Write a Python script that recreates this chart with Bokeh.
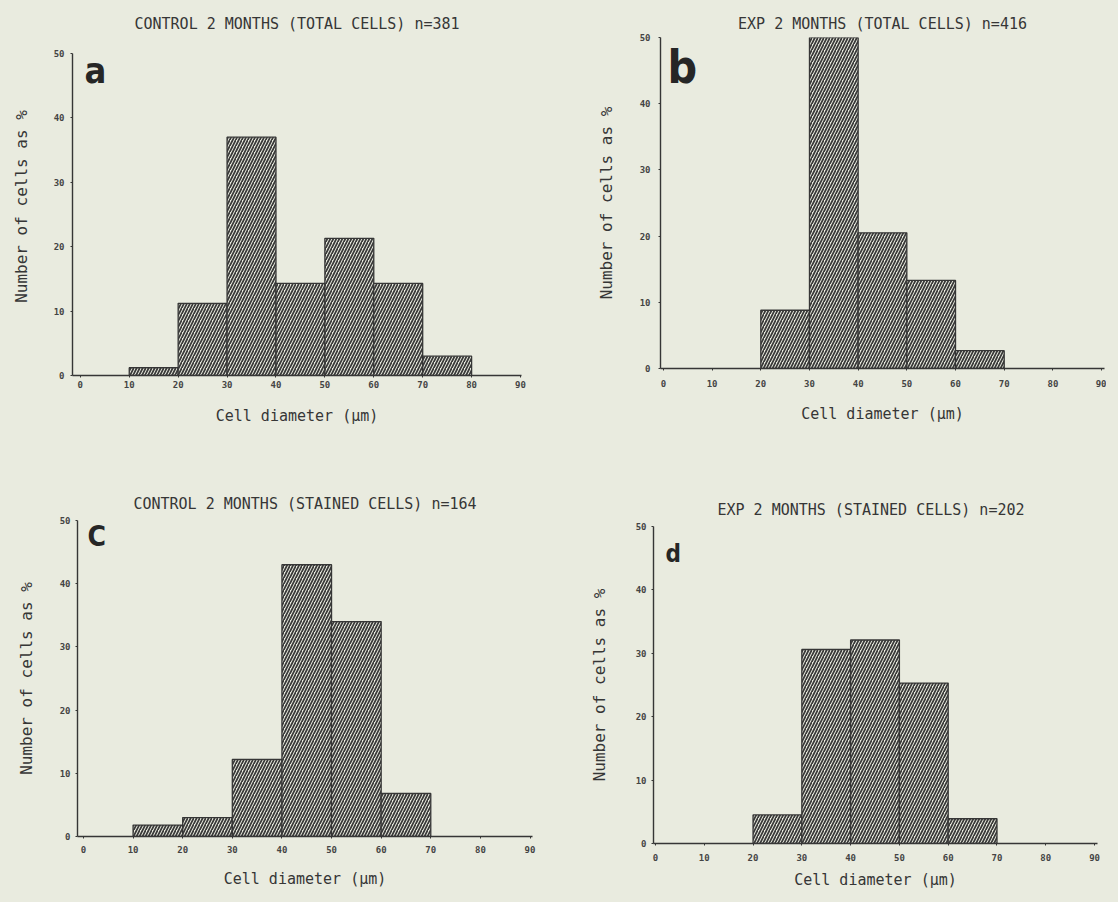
from bokeh.plotting import figure
from bokeh.models import Label, FixedTicker
from bokeh.embed import file_html
from bokeh.resources import INLINE

# ---------------- data ----------------
bin_edges = [0, 10, 20, 30, 40, 50, 60, 70, 80, 90]
x_ticks = [0, 10, 20, 30, 40, 50, 60, 70, 80, 90]
y_ticks = [0, 10, 20, 30, 40, 50]

control_total = [0, 1.2, 11.2, 37.0, 14.3, 21.3, 14.3, 3.0, 0]
exp_total = [0, 0, 8.8, 50.0, 20.5, 13.3, 2.7, 0, 0]
control_stained = [0, 1.8, 3.0, 12.2, 43.0, 34.0, 6.8, 0, 0]
exp_stained = [0, 0, 4.5, 30.6, 32.1, 25.3, 3.9, 0, 0]

titles = [
    "CONTROL 2 MONTHS (TOTAL CELLS) n=381",
    "EXP 2 MONTHS (TOTAL CELLS) n=416",
    "CONTROL 2 MONTHS (STAINED CELLS) n=164",
    "EXP 2 MONTHS (STAINED CELLS)  n=202",
]
letters = ["a", "b", "C", "d"]
y_label = "Number of cells as %"
x_label = "Cell diameter (\u03bcm)"

# ---------------- style ----------------
BG = "#e9ebdf"
INK = "#363636"
MONO = "DejaVu Sans Mono"
LETTER_FONT = "'Liberation Sans Narrow', 'DejaVu Sans Condensed', 'DejaVu Sans', sans-serif"

# L/R/T/B: frame borders (px); ax_t: pixel row where the value 50 sits
layouts = [
    dict(W=552, H=438, L=62, R=39, T=29, ax_t=45, B=71, xr=(-1.6, 90.2),
         let=(74, 62), let_size=36, ystand=6, xstand=3, ylab_s=20, xlab_s=16, title_s=9),
    dict(W=546, H=438, L=100, R=2, T=29, ax_t=29, B=78, xr=(-0.6, 90.6),
         let=(107, 58), let_size=46, ystand=8, xstand=9, ylab_s=21, xlab_s=15, title_s=9),
    dict(W=552, H=447, L=69, R=28, T=74, ax_t=74, B=57, xr=(-1.2, 90.5),
         let=(79, 90), let_size=28, ystand=5, xstand=7, ylab_s=21, xlab_s=14, title_s=16),
    dict(W=546, H=447, L=93, R=9, T=80, ax_t=80, B=50, xr=(-0.4, 90.6),
         let=(105, 107), let_size=24, ystand=5, xstand=8, ylab_s=24, xlab_s=7, title_s=16),
]
series = [control_total, exp_total, control_stained, exp_stained]


def make_panel(vals, title, letter, lay):
    x0, x1 = lay["xr"]
    fw = lay["W"] - lay["L"] - lay["R"]
    ax_b = lay["H"] - lay["B"]
    per_px = 50.0 / (ax_b - lay["ax_t"])
    y_top = (ax_b - lay["T"]) * per_px

    def dx(px):
        return x0 + (px - lay["L"]) / fw * (x1 - x0)

    def dy(py):
        return (ax_b - py) * per_px

    p = figure(width=lay["W"], height=lay["H"], x_range=(x0, x1), y_range=(0, y_top),
               output_backend="svg", toolbar_location=None, title=title,
               min_border_left=lay["L"], min_border_right=lay["R"],
               min_border_top=lay["T"], min_border_bottom=lay["B"])
    p.background_fill_color = BG
    p.border_fill_color = BG
    p.outline_line_color = None
    p.grid.visible = False

    p.title.align = "center"
    p.title.text_font = MONO
    p.title.text_font_size = "15px"
    p.title.text_font_style = "normal"
    p.title.text_color = INK
    p.title.standoff = lay["title_s"]

    lefts, rights, tops = [], [], []
    for i, v in enumerate(vals):
        if v > 0:
            lefts.append(bin_edges[i])
            rights.append(bin_edges[i + 1])
            tops.append(v)
    p.quad(left=lefts, right=rights, bottom=0, top=tops,
           fill_color=BG, line_color=INK, line_width=1.3,
           hatch_pattern="/", hatch_color="#383838", hatch_scale=6, hatch_weight=1.7)

    for ax in (p.xaxis[0], p.yaxis[0]):
        ax.axis_line_color = INK
        ax.axis_line_width = 1.4
        ax.major_tick_line_color = INK
        ax.major_tick_in = 0
        ax.major_tick_out = 2
        ax.minor_tick_line_color = None
        ax.major_label_text_font = MONO
        ax.major_label_text_font_size = "9px"
        ax.major_label_text_font_style = "bold"
        ax.major_label_text_color = "#444444"
        ax.axis_label_text_font = MONO
        ax.axis_label_text_font_style = "normal"
        ax.axis_label_text_color = INK
    p.xaxis.ticker = FixedTicker(ticks=x_ticks)
    p.yaxis.ticker = FixedTicker(ticks=y_ticks)
    p.yaxis.bounds = (0, 50)
    p.xaxis.major_label_standoff = lay["xstand"]
    p.yaxis.major_label_standoff = lay["ystand"]
    p.xaxis.axis_label = x_label
    p.yaxis.axis_label = y_label
    p.xaxis.axis_label_text_font_size = "15px"
    p.yaxis.axis_label_text_font_size = "16px"
    p.xaxis.axis_label_standoff = lay["xlab_s"]
    p.yaxis.axis_label_standoff = lay["ylab_s"]

    ex, ey = lay["let"]
    p.add_layout(Label(x=dx(ex), y=dy(ey), text=letter, text_font=LETTER_FONT,
                       text_font_size=f"{lay['let_size']}px", text_font_style="bold",
                       text_color="#262626", text_align="left", text_baseline="alphabetic"))
    return p


panels = [make_panel(series[i], titles[i], letters[i], layouts[i]) for i in range(4)]

# Each panel is its own root (so no frame alignment between them); a CSS grid
# places the four roots as a 2 x 2 page.
html = file_html(panels, INLINE)
css = ("<style>html, body { background: %s; } "
       "body { margin: 8px; display: grid; grid-template-columns: 552px 546px; "
       "grid-auto-rows: min-content; align-items: start; justify-items: start; }</style>" % BG)
html = html.replace("</head>", css + "</head>", 1)
open("out.html", "w").write(html)
